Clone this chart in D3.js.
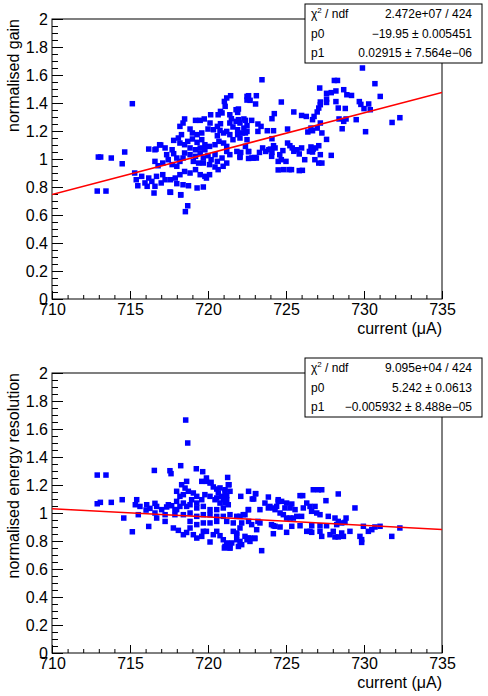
<!DOCTYPE html>
<html>
<head>
<meta charset="utf-8">
<script src="https://cdn.jsdelivr.net/npm/d3@7"></script>
<style>
  body { margin: 0; background: #fff; }
  text { font-family: "Liberation Sans", Arial, sans-serif; }
</style>
</head>
<body>
<svg id="chart"></svg>
<script>
const fullWidth = 488;
const fullHeight = 696;

// axis ticks
const xTicks = [710, 715, 720, 725, 730, 735];
const xTickLabels = ['710', '715', '720', '725', '730', '735'];
const yTicks = [0, 0.2, 0.4, 0.6, 0.8, 1, 1.2, 1.4, 1.6, 1.8, 2];
const yTickLabels = ['0', '0.2', '0.4', '0.6', '0.8', '1', '1.2', '1.4', '1.6', '1.8', '2'];

// [current (uA), normalised gain]
const gainPoints = [
  [712.97,1.014],[713.12,1.014],[713.8,1.007],[714.66,1.05],[714.5,0.966],[712.9,0.771],[713.46,0.771],[715.15,1.395],
  [716.2,1.071],[716.67,1.071],[716.97,1.1],[718.7,0.666],[718.55,0.624],[718.25,0.743],[717.56,0.764],
  [715.3,0.9],[715.4,0.852],[715.5,0.809],[715.75,0.876],[715.96,0.829],[716.2,0.864],[716.4,0.84],[716.6,0.805],
  [716.54,0.757],[716.1,0.805],[716.7,0.876],[717.1,0.888],[717.25,0.852],[717.0,0.829],
  [716.6,1.066],[716.9,1.102],[717.25,1.079],[717.35,1.031],[717.7,1.066],[717.8,1.038],[718.0,1.007],[716.6,0.983],
  [716.8,0.952],[717.1,0.971],[717.45,0.995],[717.7,0.96],[718.0,0.948],[718.2,0.983],[718.4,1.007],[718.5,1.043],
  [718.85,1.031],[719.2,1.019],[719.5,1.043],[719.7,1.007],[720.0,1.024],[720.2,0.995],[720.45,1.031],[720.6,0.983],
  [720.9,1.007],[719.06,0.983],[719.4,0.971],[719.7,0.971],[720.1,0.96],[720.45,0.943],[720.65,0.924],[720.97,0.948],[721.2,0.971],
  [721.2,1.054],[721.4,1.031],[721.85,1.054],[722.05,1.019],[722.6,1.054],[722.4,1.09],[722.8,1.007],[723.1,1.007],
  [718.5,0.911],[718.85,0.9],[719.2,0.924],[719.5,0.888],[719.8,0.876],[720.1,0.888],[718.2,0.888],[717.9,0.864],
  [717.6,0.852],[718.0,0.824],[718.4,0.816],[718.75,0.809],[719.3,0.793],[719.7,0.8],[719.9,0.864],[717.6,0.762],[718.25,0.745],
  [717.8,1.133],[718.1,1.15],[718.3,1.174],[718.2,1.114],[718.5,1.102],[718.7,1.126],[719.0,1.143],[719.3,1.119],
  [719.6,1.138],[719.8,1.102],[718.85,1.079],[719.2,1.066],[719.5,1.079],[719.8,1.066],[720.1,1.09],[720.45,1.102],
  [720.7,1.126],[721.0,1.114],[721.2,1.09],
  [721.4,1.257],[721.6,1.229],[721.9,1.209],[721.2,1.197],[721.4,1.174],[721.9,1.174],[722.4,1.186],[722.05,1.15],[721.6,1.138],[722.5,1.138],
  [720.13,1.257],[720.0,1.214],[720.35,1.209],[720.6,1.233],[720.8,1.252],[720.77,1.204],[721.0,1.186],[720.6,1.166],
  [720.17,1.316],[719.76,1.286],[719.2,1.276],[719.5,1.276],[718.5,1.286],[718.4,1.257],[718.2,1.233],[718.85,1.214],
  [719.0,1.186],[719.3,1.174],[719.6,1.186],
  [721.8,1.352],[721.9,1.333],[721.4,1.316],[721.5,1.288],[721.95,1.281],[721.8,1.269],[722.3,1.286],
  [721.45,1.452],[721.2,1.436],[721.05,1.411],[721.1,1.376],[720.8,1.34],[720.65,1.316],[720.9,1.329],
  [722.6,1.452],[722.7,1.419],[723.1,1.452],[723.05,1.393],[721.95,1.357],[722.5,1.447],
  [723.46,1.566],[728.1,1.561],[728.3,1.561],[730.7,1.538],[727.16,1.507],[727.6,1.469],[727.9,1.474],[728.2,1.486],
  [728.7,1.495],[728.9,1.459],[729.2,1.454],[731.04,1.447],[729.9,1.65],
  [722.5,1.421],[724.7,1.407],[727.6,1.428],[727.6,1.404],[727.2,1.407],[727.2,1.388],[728.2,1.41],[729.7,1.41],
  [729.8,1.39],[730.3,1.393],[730.0,1.36],[730.4,1.352],[728.35,1.364],[728.8,1.361],[727.1,1.364],[727.0,1.336],
  [725.5,1.336],[724.25,1.324],[724.1,1.288],[726.0,1.311],[726.3,1.304],[726.8,1.304],[726.7,1.281],[728.4,1.286],
  [728.7,1.269],[728.85,1.286],[729.5,1.281],[731.8,1.261],[732.3,1.295],[727.2,1.257],[728.6,1.216],[730.1,1.195],
  [725.1,1.214],[726.6,1.221],[726.7,1.202],[726.4,1.193],[727.0,1.221],[727.3,1.186],[727.6,1.14],[723.8,1.202],
  [724.2,1.202],[724.1,1.145],
  [723.2,1.25],[723.4,1.233],[722.8,1.276],[722.4,1.276],[722.5,1.238],[722.05,1.257],[722.2,1.186],
  [725.1,1.114],[725.25,1.095],[725.4,1.079],[725.5,1.055],[724.8,1.06],[724.6,1.031],[724.7,0.995],[724.5,0.983],
  [725.0,0.983],[724.85,0.924],[725.2,0.924],[725.35,0.924],[725.85,0.917],[726.05,0.919],
  [726.0,1.079],[725.7,1.066],[725.85,1.036],[726.2,0.995],[726.6,1.086],[726.75,1.071],[727.1,1.095],[726.9,1.079],
  [726.5,1.054],[726.7,1.05],[727.2,1.031],[726.85,0.995],[727.1,0.971],[727.3,0.971],[727.9,1.026],
  [724.2,1.095],[724.3,1.079],[724.0,1.071],[723.9,1.066],[723.7,1.054],[723.3,1.047],[723.0,1.011],[722.6,1.004],
  [722.9,1.007],[722.6,1.052],[722.05,1.011],[722.1,1.047],[724.1,1.047],[723.5,1.079],
  [723.2,1.197],[722.5,1.197],[722.3,1.221],[724.08,1.019],[724.5,0.922]
];

// [current (uA), normalised energy resolution]
const resPoints = [
  [712.9,1.271],[713.46,1.271],[712.9,1.066],[713.1,1.076],[713.8,1.076],[714.5,1.095],[714.6,0.964],[715.15,0.866],[716.2,0.904],
  [718.57,1.664],[718.7,1.5],[716.56,1.304],[717.56,1.302],[717.63,1.281],[718.25,1.338],[719.25,1.316],[719.66,1.295],
  [719.9,1.25],[720.2,1.219],[721.26,1.254],
  [715.43,1.095],[715.34,1.059],[715.64,1.047],[716.07,1.059],[715.53,0.988],[716.03,1.021],[716.28,1.033],[716.6,1.069],
  [716.71,1.047],[716.6,1.0],[716.71,0.964],[717.03,1.024],[717.25,0.988],[717.35,1.043],[717.46,1.059],[717.25,0.94],
  [717.88,0.988],[717.67,1.052],[717.99,1.083],[717.88,1.024],
  [717.78,0.893],[718.1,0.876],[718.42,0.845],[718.63,0.861],[718.85,0.893],[719.06,0.845],[719.28,0.821],[719.6,0.833],
  [719.7,0.869],[719.9,0.869],[720.13,0.793],[720.34,0.845],[720.56,0.869],[720.77,0.838],[720.98,0.809],[721.09,0.761],
  [721.41,0.75],[721.52,0.786],[721.84,0.857],[721.84,0.809],[722.05,0.797],[722.16,0.774],
  [722.1,1.119],[722.6,1.155],
  [717.99,1.155],[718.31,1.202],[718.63,1.226],[718.53,1.178],[718.2,1.119],[718.42,1.131],[718.74,1.155],[719.06,1.143],
  [719.28,1.119],[719.6,1.226],[719.9,1.226],[720.13,1.214],[720.34,1.186],[720.56,1.171],[720.66,1.143],[720.88,1.119],
  [721.09,1.155],[721.2,1.095],[721.3,1.202],[720.98,1.095],[720.77,1.071],[720.45,1.095],[720.13,1.119],[719.8,1.131],
  [719.6,1.095],[719.28,1.071],[718.95,1.095],[718.85,1.059],[718.63,1.047],[718.42,1.071],[718.2,1.047],[717.99,1.024],
  [719.28,1.036],[719.7,1.047],[720.13,1.024],[720.56,1.024],[720.98,1.036],
  [718.42,0.988],[718.85,1.0],[719.28,0.976],[719.7,0.988],[720.13,0.988],[720.56,0.976],[720.98,0.976],[721.41,0.988],
  [721.84,0.976],[722.37,0.988],[718.85,0.94],[719.28,0.917],[719.7,0.929],[720.13,0.929],[720.56,0.94],[721.2,0.94],
  [721.62,0.929],[722.16,0.929],
  [721.35,1.202],[721.09,1.166],[721.41,1.155],[721.2,1.124],[720.77,1.179],[720.56,1.107],[721.09,1.076],[721.3,1.059],
  [723.06,1.138],[722.84,1.1],[722.6,1.024],[723.33,1.024],[723.65,1.071],[723.87,1.114],[723.97,1.047],[724.4,1.047],
  [724.3,1.024],[724.5,1.095],
  [722.05,0.976],[722.6,0.94],[722.8,0.917],[723.2,0.94],[723.33,0.929],[724.07,0.917],[724.3,0.905],[722.05,0.893],
  [721.62,0.869],[721.84,0.845],[722.37,0.833],[722.69,0.821],[723.0,0.821],[721.95,0.761],[722.5,0.809],[721.4,0.774],
  [721.2,0.786],[721.05,0.75],[721.4,0.75],[723.44,0.731],[723.12,0.881],[724.19,0.852],
  [726.75,1.166],[727.07,1.166],[727.29,1.166],[728.35,1.136],[725.9,1.124],[726.07,1.124],[727.56,1.088],[729.42,1.036],
  [723.04,1.138],[722.93,1.1],[724.5,1.083],[724.72,1.083],[725.04,1.071],[725.37,1.064],[724.93,1.036],[725.26,1.036],
  [725.58,1.024],[726.11,1.036],[726.33,1.071],[723.87,1.036],[724.19,1.036],[722.58,1.024],[722.26,0.988],[725.69,0.976],
  [726.0,0.976],[726.54,1.047],[726.86,1.047],[726.64,1.012],[726.97,1.0],[727.18,0.988],[724.62,1.0],[724.83,0.988],
  [725.04,0.964],[725.26,0.964],[725.47,0.964],
  [724.19,0.909],[724.62,0.9],[725.04,0.862],[725.37,0.905],[725.9,0.909],[726.33,0.869],[726.65,0.862],[726.65,0.909],
  [727.18,0.909],[727.6,0.909],[727.71,0.976],[728.14,0.964],[728.35,0.94],[728.25,0.917],[728.57,0.929],[728.85,0.964],
  [728.78,0.933],
  [727.82,0.845],[728.14,0.829],[728.35,0.829],[728.57,0.857],[728.03,0.869],[728.68,0.833],[729.1,0.869],[729.74,0.833],
  [729.85,0.81],[729.96,0.905],[730.28,0.869],[730.5,0.881],[730.7,0.9],[731.03,0.905],[731.78,0.833],[732.3,0.893],
  [722.58,0.821],[723.0,0.817],[722.69,0.797],[726.54,0.869],[727.18,0.869],[727.29,0.833],[729.85,0.79]
];

// linear fits p0 + p1 * x
const gainFit = [-19.95, 0.02915];
const resFit = [5.242, -0.005932];

// stat box rows
const gainStats = [['χ2 / ndf', '2.472e+07 / 424'], ['p0', '\u221219.95 \u00b1 0.005451'], ['p1', '0.02915 \u00b1 7.564e\u221206']];
const resStats = [['χ2 / ndf', '9.095e+04 / 424'], ['p0', '5.242 \u00b1 0.0613'], ['p1', '\u22120.005932 \u00b1 8.488e\u221205']];

const panels = [
  { points: gainPoints, fit: gainFit, stats: gainStats, title: 'normalised gain' },
  { points: resPoints, fit: resFit, stats: resStats, title: 'normalised energy resolution' }
];

const margin = { top: 19, right: 46, left: 52 };
const panelHeight = 354;
const width = fullWidth - margin.left - margin.right;
const height = 280;
const markerSize = 5.5;

const svg = d3.select('#chart')
  .attr('width', fullWidth)
  .attr('height', fullHeight);

const x = d3.scaleLinear().domain([710, 735]).range([0, width]);
const y = d3.scaleLinear().domain([0, 2]).range([height, 0]);

panels.forEach((p, i) => {
  const g = svg.append('g')
    .attr('transform', `translate(${margin.left},${margin.top + i * panelHeight})`);

  g.append('clipPath').attr('id', 'clip' + i)
    .append('rect').attr('width', width).attr('height', height);

  // minor ticks
  g.append('g')
    .attr('transform', `translate(0,${height})`)
    .call(d3.axisBottom(x).tickValues(d3.range(710, 735.5, 1)).tickSize(-4).tickFormat(''))
    .call(a => a.select('.domain').remove());
  g.append('g')
    .call(d3.axisLeft(y).tickValues(d3.range(0, 2.001, 0.05)).tickSize(-6).tickFormat(''))
    .call(a => a.select('.domain').remove());

  // major ticks + labels
  g.append('g')
    .attr('transform', `translate(0,${height})`)
    .call(d3.axisBottom(x).tickValues(xTicks).tickSize(-8).tickPadding(5)
      .tickFormat((d, k) => xTickLabels[k]))
    .call(a => a.select('.domain').remove())
    .selectAll('text').attr('font-size', 16).attr('fill', '#000');
  g.append('g')
    .call(d3.axisLeft(y).tickValues(yTicks).tickSize(-11).tickPadding(4)
      .tickFormat((d, k) => yTickLabels[k]))
    .call(a => a.select('.domain').remove())
    .selectAll('text').attr('font-size', 16).attr('fill', '#000');

  g.selectAll('.tick line').attr('stroke', '#000');

  // frame
  g.append('rect')
    .attr('width', width).attr('height', height)
    .attr('fill', 'none').attr('stroke', '#000');

  // markers
  g.append('g').attr('clip-path', `url(#clip${i})`)
    .selectAll('rect')
    .data(p.points)
    .enter().append('rect')
    .attr('x', d => x(d[0]) - markerSize / 2)
    .attr('y', d => y(d[1]) - markerSize / 2)
    .attr('width', markerSize).attr('height', markerSize)
    .attr('fill', '#0000ff');

  // fit line
  const line = d3.line().x(d => x(d)).y(d => y(p.fit[0] + p.fit[1] * d));
  g.append('path')
    .attr('clip-path', `url(#clip${i})`)
    .attr('d', line([710, 735]))
    .attr('fill', 'none')
    .attr('stroke', '#ff0000')
    .attr('stroke-width', 1.5);

  // axis titles
  g.append('text')
    .attr('x', width).attr('y', height + 35)
    .attr('text-anchor', 'end').attr('font-size', 16)
    .text('current (\u03bcA)');
  g.append('text')
    .attr('transform', `translate(-33,0) rotate(-90)`)
    .attr('text-anchor', 'end').attr('font-size', 16)
    .text(p.title);

  // stat box
  const box = g.append('g').attr('transform', `translate(${305 - margin.left},${-15})`);
  box.append('rect')
    .attr('width', 177).attr('height', 59)
    .attr('fill', '#fff').attr('stroke', '#000');
  p.stats.forEach((row, r) => {
    const t = box.append('text')
      .attr('x', 6).attr('y', 14 + r * 19.5)
      .attr('font-size', 12);
    if (row[0].startsWith('χ2')) {
      t.append('tspan').text('χ');
      t.append('tspan').attr('font-size', 8).attr('dy', -5).text('2');
      t.append('tspan').attr('dy', 5).text(' / ndf');
    } else {
      t.text(row[0]);
    }
    box.append('text')
      .attr('x', 167).attr('y', 14 + r * 19.5)
      .attr('text-anchor', 'end').attr('font-size', 12)
      .text(row[1]);
  });
});
</script>
</body>
</html>
